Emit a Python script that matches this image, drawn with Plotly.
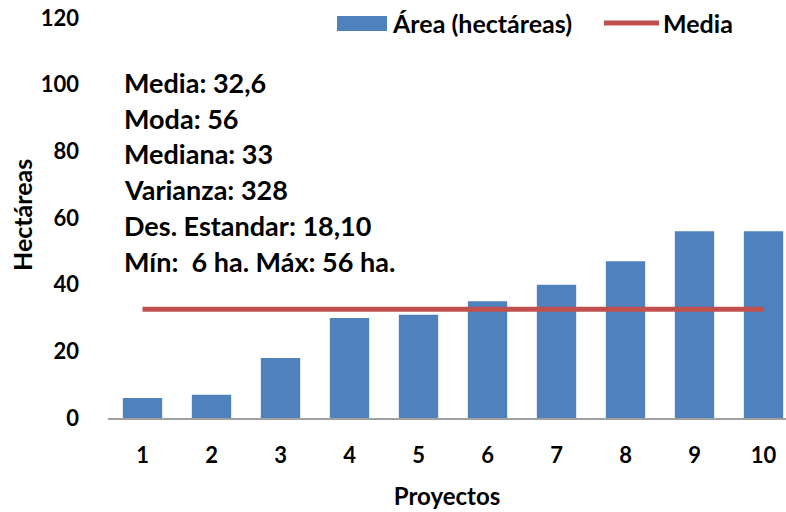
import plotly.graph_objects as go

proyectos = [1, 2, 3, 4, 5, 6, 7, 8, 9, 10]
area_ha = [6, 7, 18, 30, 31, 35, 40, 47, 56, 56]
media = [32.6] * 10
y_ticks = [0, 20, 40, 60, 80, 100, 120]
stats_lines = [
    "Media: 32,6",
    "Moda: 56",
    "Mediana: 33",
    "Varianza: 328",
    "Des. Estandar: 18,10",
    "Mín:  6 ha. Máx: 56 ha.",
]

FONT = "Lato"
BLUE = "#4F81BD"
RED = "#C0504D"

fig = go.Figure()
fig.add_trace(go.Bar(x=proyectos, y=area_ha, name="Área (hectáreas)",
                     marker=dict(color=BLUE, line=dict(width=0)), width=0.57,
                     showlegend=False))
fig.add_trace(go.Scatter(x=proyectos, y=media, name="Media", mode="lines",
                         line=dict(color=RED, width=5), showlegend=False))

W, H = 786, 512
L, R, T, B = 108, 0, 18, 94
pw, ph = W - L - R, H - T - B

def px(x):  # page pixel -> paper
    return (x - L) / pw

def py(y):
    return (H - B - y) / ph

fig.update_layout(
    width=W, height=H,
    margin=dict(l=L, r=R, t=T, b=B, autoexpand=False),
    paper_bgcolor="white", plot_bgcolor="white",
    font=dict(family=FONT, size=22, color="black"),
    showlegend=False,
    xaxis=dict(range=[0.5, 10.326], tickvals=proyectos,
               ticktext=[f"<b>{p}</b>" for p in proyectos],
               showline=True, linecolor="#A0A0A0", linewidth=2, showgrid=False,
               zeroline=False, ticks="", ticklabelstandoff=17, automargin=False,
               tickfont=dict(family=FONT, size=22),
               title=dict(text="<b>Proyectos</b>", font=dict(family=FONT, size=24), standoff=21)),
    yaxis=dict(range=[0, 120], tickvals=y_ticks,
               ticktext=[f"<b>{v}</b>" for v in y_ticks],
               showline=False, showgrid=False, automargin=False,
               zeroline=False, ticks="", ticklabelstandoff=28,
               tickfont=dict(family=FONT, size=22)),
)

# y-axis title
fig.add_annotation(text="<b>Hectáreas</b>", xref="paper", yref="paper",
                   x=px(22), y=py(215), xanchor="center", yanchor="middle",
                   textangle=-90, showarrow=False,
                   font=dict(family=FONT, size=25, color="black"))

# stats text block
line_centers = [82, 118, 153, 189, 225, 261]
for txt, yc in zip(stats_lines, line_centers):
    fig.add_annotation(text=f"<b>{txt}</b>", xref="paper", yref="paper",
                       x=px(122), y=py(yc), xanchor="left", yanchor="middle",
                       showarrow=False, font=dict(family=FONT, size=27, color="black"))

# legend drawn manually
fig.add_shape(type="rect", xref="paper", yref="paper", x0=px(337), x1=px(387),
              y0=py(31), y1=py(16), fillcolor=BLUE, line=dict(width=0), layer="above")
fig.add_shape(type="line", xref="paper", yref="paper", x0=px(604), x1=px(659),
              y0=py(23), y1=py(23), line=dict(color=RED, width=5), layer="above")
fig.add_annotation(text="<b>Área (hectáreas)</b>", xref="paper", yref="paper",
                   x=px(390), y=py(23), xanchor="left", yanchor="middle",
                   showarrow=False, font=dict(family=FONT, size=25))
fig.add_annotation(text="<b>Media</b>", xref="paper", yref="paper",
                   x=px(661), y=py(23), xanchor="left", yanchor="middle",
                   showarrow=False, font=dict(family=FONT, size=25))

fig.write_html("out.html", config={"displayModeBar": False},
               post_script="document.body.style.margin='0px';document.body.style.overflow='hidden';")
